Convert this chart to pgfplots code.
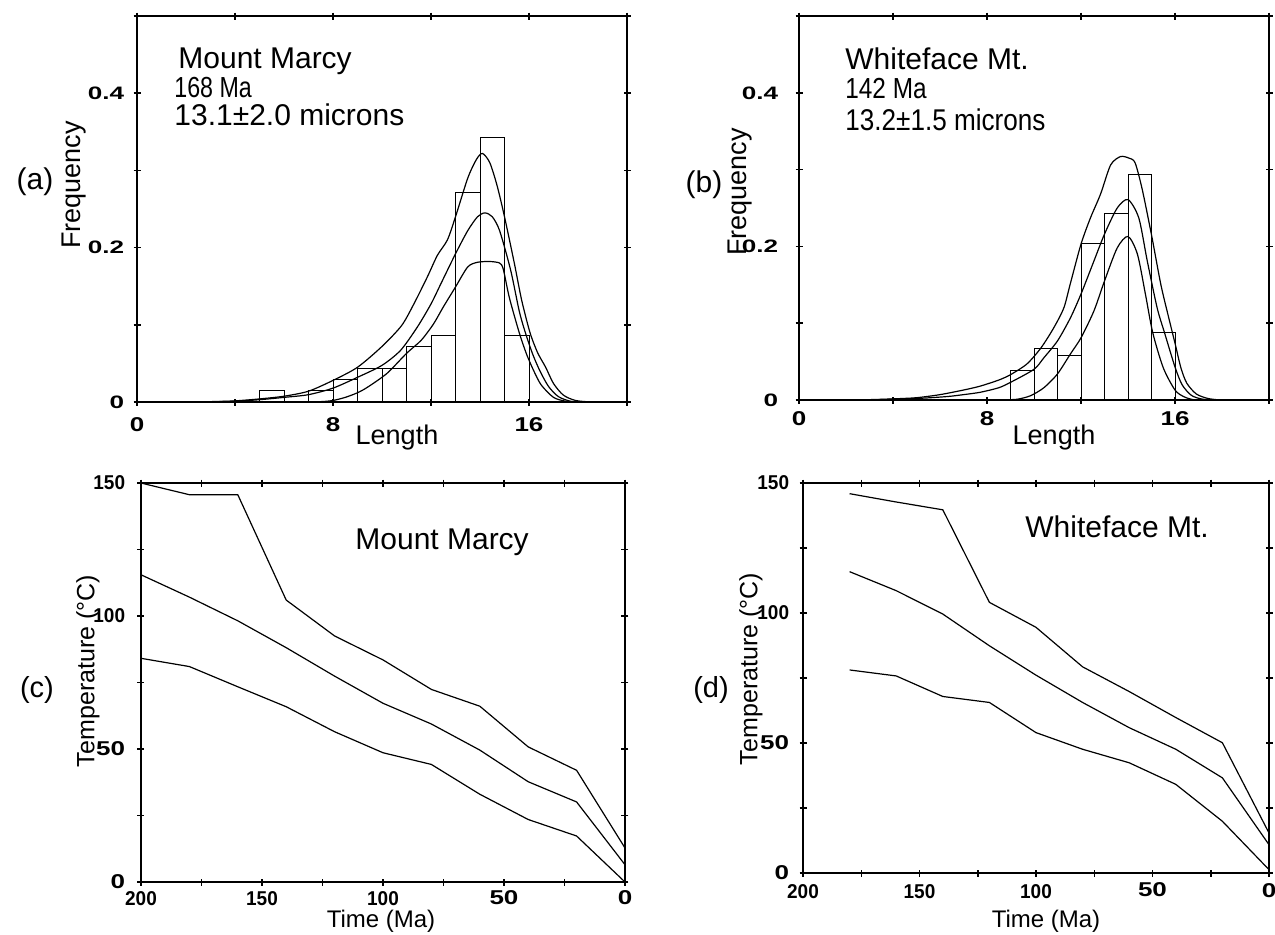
\documentclass[border=0pt]{standalone}
\usepackage{pgfplots}
\pgfplotsset{compat=1.18}
\usepackage{fontspec}
\setmainfont{Liberation Sans}
\usepackage{graphicx}

\newcommand\fs[1]{\fontsize{#1}{#1}\selectfont}
\newcommand\tx[1]{\mbox{\scalebox{1.3}[1]{\fs{10}\bfseries #1}}}
\newcommand\ty[1]{\mbox{\scalebox{1.45}[1]{\fs{9}\bfseries #1}}}
\newcommand\tn[1]{\mbox{\scalebox{0.95}[1]{\fs{10}\bfseries #1}}}
\newcommand\tw[1]{\mbox{\scalebox{1.3}[1]{\fs{10}\bfseries #1}}}

\pgfplotsset{
  base/.style={
    scale only axis, anchor=south west,
    axis line style={line width=0.75pt, black},
    every tick/.style={line width=0.75pt, black},
    major tick length=3.5pt, tick align=center,
    xticklabel style={anchor=center, inner sep=0pt},
    yticklabel style={anchor=east, inner sep=0pt},
  },
  crv/.style={black, line width=0.6pt, no marks},
  sm/.style={crv, smooth, tension=0.45},
}

\begin{document}
\begin{tikzpicture}
\path[use as bounding box] (0,0) rectangle (637.5pt,-467pt);

% ---------------- (a)
\begin{axis}[base, at={(68.5pt,-201pt)}, width=245pt, height=193pt,
  xmin=0, xmax=20, ymin=0, ymax=0.5,
  xtick={0,4,8,12,16,20}, xticklabels={\tx{0},,\tx{8},,\tx{16},},
  ytick={0,0.1,0.2,0.3,0.4,0.5}, yticklabels={\ty{0},,\ty{0.2},,\ty{0.4},},
  xticklabel style={yshift=-9.5pt}, yticklabel style={xshift=-4.5pt}]
\addplot[ybar interval, draw=black, fill=none, line width=0.5pt] coordinates {
 (5,0.0143) (6,0) (7,0.0143) (8,0.0286) (9,0.0429) (10,0.0429) (11,0.0714)
 (12,0.0857) (13,0.2714) (14,0.3429) (15,0.0857) (16,0)};
\addplot[sm] coordinates {(1,0)(3,0.0005)(4,0.0015)(5,0.004)(6,0.0075)(7,0.014)(8,0.028)(9,0.045)(10,0.072)(10.8,0.099)(11.3,0.127)(11.85,0.162)(12.26,0.19)(12.67,0.21)(13.0,0.24)(13.5,0.29)(13.85,0.314)(14.1,0.322)(14.4,0.31)(14.7,0.28)(15.0,0.24)(15.4,0.18)(15.7,0.132)(16.04,0.09)(16.35,0.064)(16.68,0.045)(17.0,0.024)(17.4,0.009)(17.9,0.002)(18.6,0)(19.5,0)};
\addplot[sm] coordinates {(1,0)(3,0.0004)(4,0.001)(5,0.003)(6,0.006)(7,0.0095)(8,0.018)(9,0.032)(10,0.0475)(10.76,0.067)(11.44,0.097)(12.0,0.127)(12.4,0.153)(13.0,0.192)(13.5,0.222)(13.9,0.240)(14.2,0.245)(14.5,0.24)(14.8,0.222)(15.25,0.171)(15.6,0.118)(15.85,0.09)(16.15,0.062)(16.45,0.04)(16.8,0.02)(17.2,0.007)(17.7,0.001)(18.3,0)};
\addplot[sm] coordinates {(6.5,0)(7.5,0.0005)(8,0.002)(8.5,0.006)(9,0.012)(9.4,0.019)(10.2,0.037)(11,0.063)(11.6,0.08)(12.1,0.101)(12.5,0.123)(13.0,0.149)(13.5,0.175)(13.9,0.181)(14.4,0.182)(14.8,0.18)(14.95,0.172)(15.2,0.135)(15.6,0.09)(15.9,0.062)(16.2,0.04)(16.5,0.022)(17.0,0.006)(17.5,0.001)(18,0)};
\end{axis}

% ---------------- (b)
\begin{axis}[base, at={(399.5pt,-200pt)}, width=235pt, height=192pt,
  xmin=0, xmax=20, ymin=0, ymax=0.5,
  xtick={0,4,8,12,16,20}, xticklabels={\tx{0},,\tx{8},,\tx{16},},
  ytick={0,0.1,0.2,0.3,0.4,0.5}, yticklabels={\ty{0},,\ty{0.2},,\ty{0.4},},
  xticklabel style={yshift=-7.5pt}, yticklabel style={xshift=-8.5pt}]
\addplot[ybar interval, draw=black, fill=none, line width=0.5pt] coordinates {
 (9,0.038) (10,0.067) (11,0.058) (12,0.204) (13,0.243) (14,0.293) (15,0.088) (16,0)};
\addplot[sm] coordinates {(1,0)(3,0.0005)(4,0.0015)(5,0.003)(6,0.007)(7,0.013)(7.7,0.018)(8.5,0.026)(9,0.033)(9.7,0.047)(10.3,0.068)(10.84,0.094)(11.27,0.12)(11.55,0.152)(12,0.203)(12.4,0.237)(12.83,0.268)(13.26,0.306)(13.68,0.317)(14.04,0.315)(14.3,0.309)(14.6,0.275)(15.0,0.215)(15.4,0.15)(15.75,0.105)(16.0,0.074)(16.25,0.042)(16.5,0.022)(16.9,0.008)(17.4,0.002)(18,0)(19,0)};
\addplot[sm] coordinates {(1,0)(3,0.0003)(5,0.002)(6.3,0.0045)(7,0.007)(7.7,0.01)(8.5,0.016)(9,0.023)(10,0.04)(10.42,0.055)(11,0.077)(11.55,0.107)(12,0.138)(12.55,0.181)(13,0.216)(13.54,0.25)(14,0.261)(14.46,0.237)(14.82,0.181)(15.24,0.12)(15.55,0.088)(16.0,0.043)(16.3,0.02)(16.7,0.006)(17.2,0.001)(18,0)};
\addplot[sm] coordinates {(8.5,0)(9.28,0.001)(9.85,0.0056)(10.42,0.016)(11,0.034)(11.55,0.06)(12,0.081)(12.55,0.116)(13,0.155)(13.54,0.198)(14,0.213)(14.4,0.19)(14.74,0.138)(15.05,0.088)(15.5,0.042)(16,0.013)(16.4,0.004)(16.9,0)(18,0)};
\end{axis}

% ---------------- (c)
\begin{axis}[base, at={(70.5pt,-441pt)}, width=242pt, height=199.5pt,
  x dir=reverse, xmin=0, xmax=200, ymin=0, ymax=150,
  xtick={0,25,50,75,100,125,150,175,200},
  xticklabels={\raisebox{1pt}{\tw{0}},,\raisebox{1pt}{\tw{50}},,\tn{100},,\tn{150},,\tn{200}},
  ytick={0,25,50,75,100,125,150},
  yticklabels={\tw{0},,\tw{50},,\tn{100},,\tn{150}},
  xticklabel style={yshift=-6.5pt}, yticklabel style={xshift=-6pt}]
\addplot[crv] coordinates {(200,150)(180,145.6)(160,145.6)(140,106)(120,92.5)(100,83.5)(80,72.4)(60,66.1)(40,50.8)(20,42)(0,12.8)};
\addplot[crv] coordinates {(200,115.5)(180,107.1)(160,98.2)(140,88.1)(120,77.4)(100,67.2)(80,59.4)(60,49.6)(40,37.7)(20,30.1)(0,6.5)};
\addplot[crv] coordinates {(200,84.1)(180,81)(160,73.4)(140,65.9)(120,56.5)(100,48.6)(80,44.2)(60,33)(40,23.5)(20,17.3)(0,0)};
\end{axis}

% ---------------- (d)
\begin{axis}[base, at={(401.5pt,-436.5pt)}, width=233pt, height=195pt,
  x dir=reverse, xmin=0, xmax=200, ymin=0, ymax=150,
  xtick={0,25,50,75,100,125,150,175,200},
  xticklabels={\raisebox{1pt}{\tw{0}},,\raisebox{2pt}{\tw{50}},,\tn{100},,\tn{150},,\tn{200}},
  ytick={0,25,50,75,100,125,150},
  yticklabels={\tw{0},,\tw{50},,\tn{100},,\tn{150}},
  xticklabel style={yshift=-7.5pt}, yticklabel style={xshift=-5pt}]
\addplot[crv] coordinates {(180,145.9)(160,142.7)(140,139.7)(120,104.1)(100,94.5)(80,79.3)(60,69.8)(40,59.8)(20,50.1)(0,15.4)};
\addplot[crv] coordinates {(180,115.9)(160,108.6)(140,99.6)(120,87.4)(100,76.1)(80,65.6)(60,55.9)(40,47.6)(20,36.6)(0,10.9)};
\addplot[crv] coordinates {(180,78.1)(160,75.8)(140,67.9)(120,65.6)(100,54)(80,47.6)(60,42.4)(40,34.1)(20,19.9)(0,1.3)};
\end{axis}

% ---------------- texts (pixel coordinates of the reference)
\begin{scope}[x=0.5pt, y=-0.5pt, every node/.style={inner sep=0pt}]
% (a)
\node at (35,182) {\fs{15}(a)};
\node[rotate=90] at (74,185) {\fs{13.5}Frequency};
\node at (397,438) {\fs{13.5}Length};
\node[anchor=base west] at (178,68) {\fs{15}Mount Marcy};
\node[anchor=base west] at (174,97) {\scalebox{0.8}[1]{\fs{14.5}168 Ma}};
\node[anchor=base west] at (174,125) {\fs{15}13.1±2.0 microns};
% (b)
\node at (704,185) {\fs{15}(b)};
\node[rotate=90] at (740,192) {\fs{13.5}Frequency};
\node at (1054,438) {\fs{13.5}Length};
\node[anchor=base west] at (845,69) {\fs{15}Whiteface Mt.};
\node[anchor=base west] at (845,98) {\scalebox{0.84}[1]{\fs{14.5}142 Ma}};
\node[anchor=base west] at (845,130) {\scalebox{0.87}[1]{\fs{15}13.2±1.5 microns}};
% (c)
\node at (37,690) {\fs{14.5}(c)};
\node[rotate=90] at (88,671) {\fs{12.5}Temperature (°C)};
\node at (381,921) {\fs{12}Time (Ma)};
\node[anchor=base west] at (355,549) {\fs{15}Mount Marcy};
% (d)
\node at (711,690) {\fs{14.5}(d)};
\node[rotate=90] at (751,669) {\fs{12.5}Temperature (°C)};
\node at (1046,921) {\fs{12}Time (Ma)};
\node[anchor=base west] at (1025,537) {\fs{15}Whiteface Mt.};
\end{scope}
\end{tikzpicture}
\end{document}
